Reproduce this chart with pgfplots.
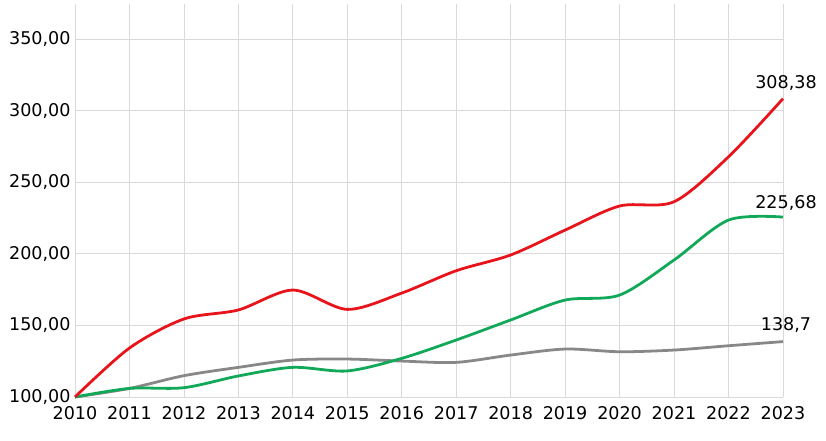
\documentclass[border=0pt]{standalone}
\usepackage{pgfplots}
\pgfplotsset{compat=1.18}
\usepackage{fontspec}
\setmainfont{DejaVu Sans}
\definecolor{cred}{HTML}{E8141B}
\definecolor{cgreen}{HTML}{12A85A}
\definecolor{cgrey}{HTML}{888888}
\definecolor{cgrid}{HTML}{D9D9D9}
\begin{document}
\begin{tikzpicture}
\useasboundingbox (-75bp,-44bp) rectangle (751bp,397bp);
\begin{axis}[
    at={(0,0)}, anchor=south west,
    scale only axis,
    width=708bp, height=393bp,
    xmin=2010, xmax=2023,
    ymin=100, ymax=374.5,
    xtick={2010,...,2023},
    ytick={100,150,...,350},
    axis line style={draw=none},
    major tick length=0pt,
    grid=major,
    grid style={cgrid, line width=0.8pt},
    font=\fontsize{17.6}{19}\selectfont,
    /pgf/number format/assume math mode=true,
    xticklabel style={/pgf/number format/1000 sep={}, yshift=-6bp},
    yticklabel style={xshift=-1bp, /pgf/number format/.cd, fixed, fixed zerofill, precision=2, use comma},
    clip=false,
]
\addplot[cgrey, line width=2.8pt, smooth] coordinates {
    (2010,100) (2011,106) (2012,114.9) (2013,120.7) (2014,125.8) (2015,126.5)
    (2016,125.1) (2017,124.2) (2018,129.3) (2019,133.5) (2020,131.6)
    (2021,132.8) (2022,135.8) (2023,138.7)
} node[pos=1, black, anchor=south, xshift=3bp, yshift=4bp] {138,7};
\addplot[cgreen, line width=2.8pt, smooth] coordinates {
    (2010,100) (2011,106) (2012,106.5) (2013,114.7) (2014,120.7) (2015,118.2)
    (2016,127.0) (2017,139.8) (2018,153.8) (2019,167.7) (2020,171.2)
    (2021,195.7) (2022,223.6) (2023,225.68)
} node[pos=1, black, anchor=south, xshift=3bp, yshift=2bp] {225,68};
\addplot[cred, line width=2.8pt, smooth] coordinates {
    (2010,100) (2011,134.2) (2012,154.5) (2013,160.8) (2014,174.7) (2015,161.2)
    (2016,172.6) (2017,188.2) (2018,199.2) (2019,216.6) (2020,233.4)
    (2021,236.4) (2022,267.8) (2023,308.38)
} node[pos=1, black, anchor=south, xshift=3bp, yshift=3bp] {308,38};
\end{axis}
\end{tikzpicture}
\end{document}
